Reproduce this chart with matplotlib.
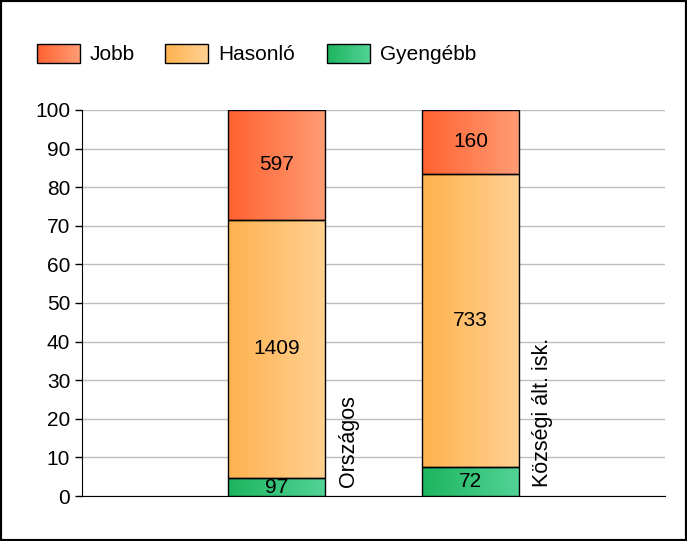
import numpy as np
import matplotlib.pyplot as plt
from matplotlib.colors import LinearSegmentedColormap
from matplotlib.patches import Rectangle

plt.rcParams['font.family'] = ['Liberation Sans', 'DejaVu Sans']

categories = ['Országos', 'Községi ált. isk.']
series = ['Jobb', 'Hasonló', 'Gyengébb']
jobb = [597, 160]
hasonlo = [1409, 733]
gyengebb = [97, 72]

# gradient (left, right) colours per series
grad = {
    'Gyengébb': ('#1db55f', '#52d395'),
    'Hasonló': ('#ffb24f', '#ffd192'),
    'Jobb': ('#ff6231', '#ff9c74'),
}
FS = 15

fig = plt.figure(figsize=(6.87, 5.41), dpi=100)
ax = fig.add_axes([82/687, 45/541, 583/687, 386/541])

x = np.arange(1, len(categories) + 1)
tot = np.array(jobb) + np.array(hasonlo) + np.array(gyengebb)
stack = [('Gyengébb', gyengebb), ('Hasonló', hasonlo), ('Jobb', jobb)]

grad_img = np.linspace(0, 1, 64).reshape(1, -1)
bottom = np.zeros(len(categories))
for name, vals in stack:
    pct = np.array(vals) / tot * 100
    cmap = LinearSegmentedColormap.from_list(name, grad[name])
    bars = ax.bar(x, pct, 0.5, bottom=bottom, fill=False, edgecolor='black',
                  linewidth=1, zorder=4)
    for b, v in zip(bars, vals):
        x0, y0 = b.get_x(), b.get_y()
        ax.imshow(grad_img, cmap=cmap, extent=[x0, x0 + b.get_width(), y0, y0 + b.get_height()],
                  aspect='auto', zorder=3, interpolation='bilinear')
        ax.text(x0 + b.get_width() / 2, y0 + b.get_height() / 2, str(v),
                ha='center', va='center', fontsize=FS, zorder=5)
    bottom += pct

for xi, c in zip(x, categories):
    ax.text(xi + 0.372, 2.4, c, rotation=90, ha='center', va='bottom', fontsize=FS + 0.5)

ax.set_xlim(0, 3)
ax.set_ylim(0, 100)
ax.set_yticks(range(0, 101, 10))
ax.set_xticks([])
ax.tick_params(axis='y', labelsize=FS, length=5, width=1, color='black')
ax.grid(axis='y', color='#bdbdbd', linewidth=1, zorder=0)
ax.set_axisbelow(True)
for s in ['top', 'right']:
    ax.spines[s].set_visible(False)

# legend drawn in pixel space
lax = fig.add_axes([0, 0, 1, 1])
lax.axis('off')
leg_x = [37, 165, 327]
for name, lx in zip(series, leg_x):
    cmap = LinearSegmentedColormap.from_list(name + 'l', grad[name])
    lax.imshow(grad_img, cmap=cmap, extent=[lx, lx + 43, 63, 44], aspect='auto',
               interpolation='bilinear')
    lax.add_patch(Rectangle((lx, 44), 43, 19, fill=False, edgecolor='black', linewidth=1))
    lax.text(lx + 53, 54, name, ha='left', va='center', fontsize=FS)
lax.set_xlim(0, 687)
lax.set_ylim(541, 0)

fig.patches.append(Rectangle((0, 0), 1, 1, transform=fig.transFigure, fill=False,
                             edgecolor='black', linewidth=3))

fig.savefig('out.png', dpi=100)
